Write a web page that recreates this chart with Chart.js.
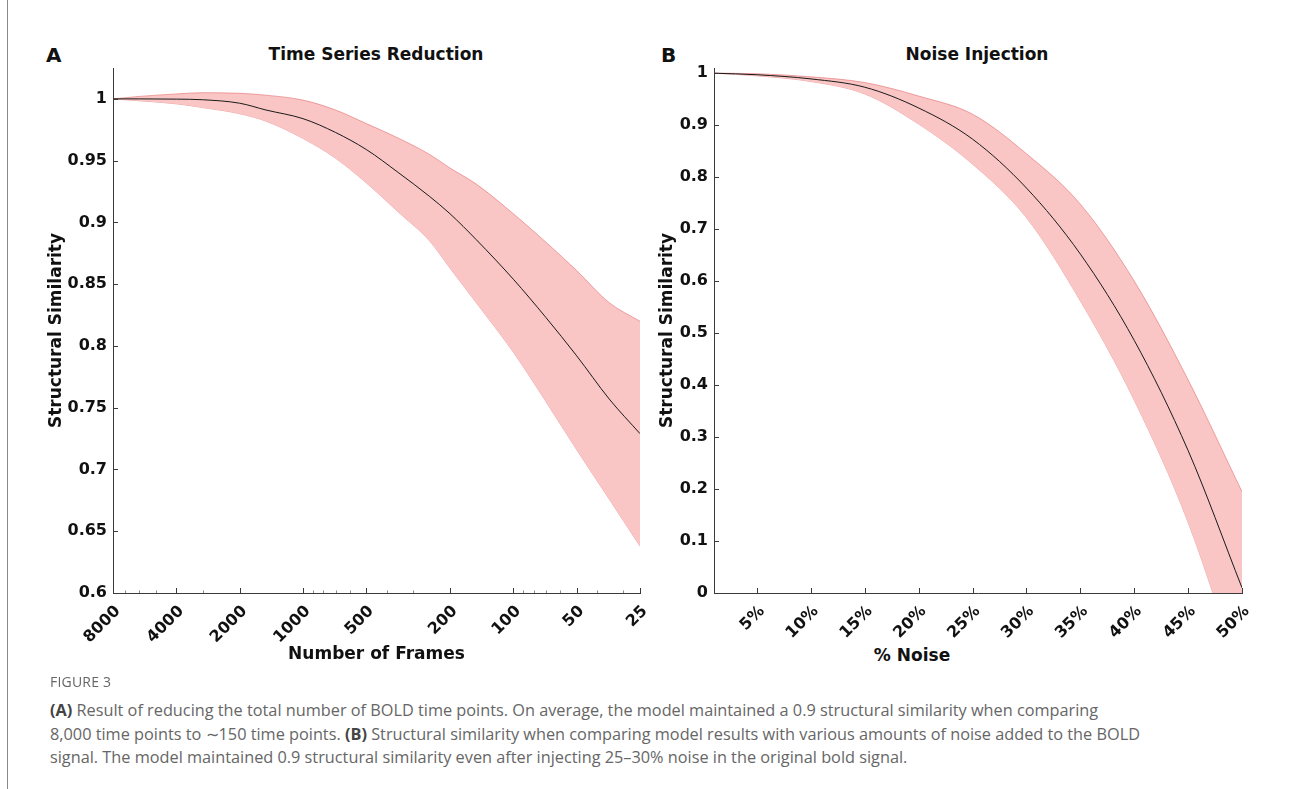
<!DOCTYPE html>
<html><head><meta charset="utf-8">
<script src="https://cdn.jsdelivr.net/npm/chart.js@4.4.0/dist/chart.umd.min.js"></script>
<style>
body{margin:0;background:#fff;width:1290px;height:789px;position:relative;overflow:hidden;font-family:"DejaVu Sans",sans-serif;}
.border{position:absolute;left:7px;top:0;width:1px;height:789px;background:#8a8a8a;}
.letter{position:absolute;font:bold 20px "DejaVu Sans";color:#111;line-height:20px;}
.ptitle{position:absolute;font:bold 17px "DejaVu Sans";color:#111;transform:translateX(-50%);white-space:nowrap;line-height:20px;}
#wA{position:absolute;left:0;top:40px;width:650px;height:640px;}
#wB{position:absolute;left:650px;top:40px;width:630px;height:640px;}
.fig{position:absolute;left:50px;top:672px;font:14px "Open Sans";color:#666;letter-spacing:0.2px;}
.cap{position:absolute;left:50px;top:699px;width:1235px;font:16.3px/23.5px "Open Sans";color:#666;white-space:nowrap;}
.cap b{color:#444;}
</style></head>
<body>
<div class="border"></div>
<div class="letter" style="left:46px;top:45px;">A</div>
<div class="ptitle" style="left:376px;top:44px;">Time Series Reduction</div>
<div class="letter" style="left:661px;top:45px;">B</div>
<div class="ptitle" style="left:977px;top:44px;">Noise Injection</div>
<div class="ptitle" style="left:912px;top:645px;">% Noise</div>
<div id="wA"><canvas id="cA"></canvas></div>
<div id="wB"><canvas id="cB"></canvas></div>
<div class="fig">FIGURE 3</div>
<div class="cap"><b>(A)</b> Result of reducing the total number of BOLD time points. On average, the model maintained a 0.9 structural similarity when comparing<br>8,000 time points to ∼150 time points. <b>(B)</b> Structural similarity when comparing model results with various amounts of noise added to the BOLD<br>signal. The model maintained 0.9 structural similarity even after injecting 25–30% noise in the original bold signal.</div>
<script>
// ---- Panel A: Time Series Reduction ----
const framesA = [8000, 6000, 4000, 3000, 2000, 1500, 1000, 700, 500, 350, 250, 200, 150, 100, 70, 50, 35, 25];
const meanA  = [1.000, 1.000, 0.9998, 0.9993, 0.9965, 0.991, 0.984, 0.9728, 0.959, 0.940, 0.921, 0.907, 0.886, 0.854, 0.823, 0.792, 0.757, 0.729];
const upperA = [1.000, 1.002, 1.004, 1.005, 1.0045, 1.003, 0.999, 0.991, 0.980, 0.968, 0.955, 0.944, 0.931, 0.907, 0.884, 0.861, 0.835, 0.820];
const lowerA = [1.000, 0.9985, 0.996, 0.993, 0.988, 0.982, 0.968, 0.952, 0.932, 0.908, 0.885, 0.863, 0.835, 0.795, 0.755, 0.716, 0.676, 0.638];
const xTicksA = [8000, 4000, 2000, 1000, 500, 200, 100, 50, 25];
const xMinorA = [7000, 6000, 5000, 3000, 900, 800, 700, 600, 400, 300, 90, 80, 70, 60, 40, 30];
const yTicksA = [0.6, 0.65, 0.7, 0.75, 0.8, 0.85, 0.9, 0.95, 1];

// ---- Panel B: Noise Injection ----
const noiseB = [1, 5, 10, 15, 20, 25, 30, 35, 40, 45, 50];
const meanB  = [1.000, 0.997, 0.989, 0.973, 0.933, 0.873, 0.779, 0.652, 0.486, 0.274, 0.010];
const upperB = [1.000, 0.999, 0.993, 0.982, 0.956, 0.921, 0.845, 0.748, 0.600, 0.410, 0.195];
const lowerB = [1.000, 0.995, 0.984, 0.960, 0.902, 0.825, 0.722, 0.562, 0.371, 0.136, -0.170];
const xTicksB = [5, 10, 15, 20, 25, 30, 35, 40, 45, 50];
const yTicksB = [0, 0.1, 0.2, 0.3, 0.4, 0.5, 0.6, 0.7, 0.8, 0.9, 1];

const BAND_FILL = '#f9c5c5';
const BAND_EDGE = 'rgba(228,110,110,0.75)';
const AXIS_COLOR = '#3a3a3a';
const tickFont = {family:'DejaVu Sans', size:16, weight:'bold'};
const titleFont = {family:'DejaVu Sans', size:17, weight:'bold'};

function pts(xs, ys){ return xs.map((x,i)=>({x:x, y:ys[i]})); }
function fmt(v){ return String(Number(v.toFixed(2))); }

const inwardTicks = {
  id:'inwardTicks',
  afterDraw(chart, args, opts){
    const {ctx, chartArea:a, scales:{x, y}} = chart;
    ctx.save();
    ctx.strokeStyle = AXIS_COLOR; ctx.lineWidth = 1;
    ctx.beginPath();
    x.ticks.forEach(t=>{ const px = Math.round(x.getPixelForValue(t.value))+0.5; ctx.moveTo(px, a.bottom); ctx.lineTo(px, a.bottom-5); });
    y.ticks.forEach(t=>{ const py = Math.round(y.getPixelForValue(t.value))+0.5; ctx.moveTo(a.left, py); ctx.lineTo(a.left+5, py); });
    ctx.stroke();
    const minor = (opts && opts.minor) || [];
    if (minor.length){
      ctx.strokeStyle = '#8a8a8a';
      ctx.beginPath();
      minor.forEach(v=>{ const px = Math.round(x.getPixelForValue(v))+0.5; ctx.moveTo(px, a.bottom); ctx.lineTo(px, a.bottom-2.5); });
      ctx.stroke();
    }
    ctx.restore();
  }
};

function datasets(xs, mean, upper, lower){
  return [
    {data: pts(xs, mean), borderColor:'#1a1a1a', borderWidth:1, pointRadius:0, fill:false, cubicInterpolationMode:'monotone'},
    {data: pts(xs, upper), borderColor:BAND_EDGE, borderWidth:0.8, pointRadius:0, fill:'+1', backgroundColor:BAND_FILL, cubicInterpolationMode:'monotone'},
    {data: pts(xs, lower), borderColor:BAND_EDGE, borderWidth:0.8, pointRadius:0, fill:false, cubicInterpolationMode:'monotone'}
  ];
}

function makeChart(id, cfg){
  return new Chart(document.getElementById(id), {
    type:'line',
    data:{datasets: datasets(cfg.xs, cfg.mean, cfg.upper, cfg.lower)},
    options:{
      responsive:true, maintainAspectRatio:false, animation:false, events:[],
      layout:{autoPadding:false, padding:cfg.padding},
      plugins:{legend:{display:false}, tooltip:{enabled:false}, inwardTicks:{minor:cfg.minor||[]}},
      scales:{
        x:Object.assign({
          grid:{display:false, drawTicks:false},
          border:{display:true, color:AXIS_COLOR, width:1},
          ticks:{color:'#111', font:tickFont, minRotation:45, maxRotation:45, padding:9, labelOffset:5, autoSkip:false,
                 callback:cfg.xFmt},
          title:{display:cfg.xTitle!=null, text:cfg.xTitle||'', color:'#111', font:titleFont, padding:{top:4,bottom:15}},
          afterBuildTicks:(s)=>{ s.ticks = cfg.xTicks.map(v=>({value:v})); },
          afterFit:(s)=>{ s.height = 87; s.paddingLeft = 0; s.paddingRight = 0; }
        }, cfg.xScale),
        y:{
          type:'linear', min:cfg.yMin, max:cfg.yMax,
          grid:{display:false, drawTicks:false},
          border:{display:true, color:AXIS_COLOR, width:1},
          ticks:{color:'#111', font:tickFont, padding:6, autoSkip:false, callback:(v)=>fmt(v)},
          title:{display:true, text:'Structural Similarity', color:'#111', font:titleFont, padding:4},
          afterBuildTicks:(s)=>{ s.ticks = cfg.yTicks.map(v=>({value:v})); },
          afterFit:(s)=>{ s.width = cfg.yWidth; s.paddingTop = 0; s.paddingBottom = 0; }
        }
      }
    },
    plugins:[inwardTicks]
  });
}

makeChart('cA', {
  xs:framesA, mean:meanA, upper:upperA, lower:lowerA,
  xTicks:xTicksA, yTicks:yTicksA, yMin:0.6, yMax:1.025, minor:xMinorA,
  xScale:{type:'logarithmic', min:25, max:8000, reverse:true},
  xFmt:(v)=>String(v), xTitle:'Number of Frames',
  padding:{left:42, right:10, top:28, bottom:0}, yWidth:71
});

makeChart('cB', {
  xs:noiseB, mean:meanB, upper:upperB, lower:lowerB,
  xTicks:xTicksB, yTicks:yTicksB, yMin:0, yMax:1.01,
  xScale:{type:'linear', min:1, max:50},
  xFmt:(v)=>v+'%', xTitle:null,
  padding:{left:3, right:38, top:28, bottom:0}, yWidth:61
});
</script>
</body></html>
